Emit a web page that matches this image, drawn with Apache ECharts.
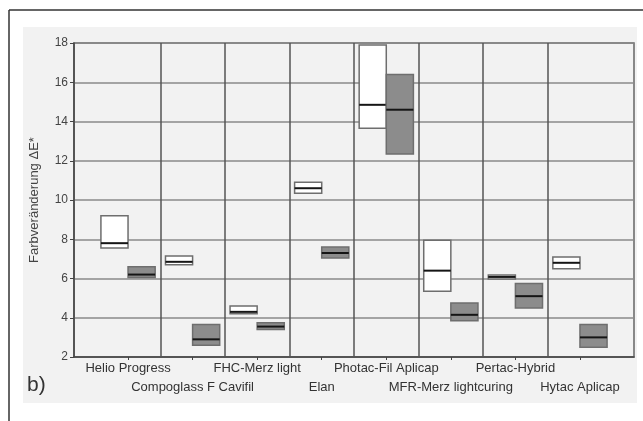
<!DOCTYPE html>
<html>
<head>
<meta charset="utf-8">
<script src="https://cdn.jsdelivr.net/npm/echarts@6/dist/echarts.min.js"></script>
<style>
  html, body { margin: 0; padding: 0; background: #fff; }
  #container { width: 643px; height: 421px; }
</style>
</head>
<body>
<div id="container"></div>
<script>
// materials (one pair of boxes each)
const materials = ['Helio Progress', 'Compoglass F Cavifil', 'FHC-Merz light', 'Elan',
    'Photac-Fil Aplicap', 'MFR-Merz lightcuring', 'Pertac-Hybrid', 'Hytac Aplicap'];

// white boxes: low / median / high
const whiteLow = [7.55, 6.7, 4.2, 10.35, 13.65, 5.35, 5.98, 6.5];
const whiteMed = [7.8, 6.85, 4.3, 10.6, 14.85, 6.4, 6.08, 6.8];
const whiteHigh = [9.2, 7.15, 4.6, 10.9, 17.9, 7.95, 6.18, 7.1];

// grey boxes: low / median / high
const greyLow = [6.05, 2.6, 3.4, 7.05, 12.35, 3.85, 4.5, 2.5];
const greyMed = [6.2, 2.9, 3.55, 7.3, 14.6, 4.15, 5.1, 3.0];
const greyHigh = [6.6, 3.65, 3.75, 7.6, 16.4, 4.75, 5.75, 3.65];

const yTicks = [2, 4, 6, 8, 10, 12, 14, 16, 18];

const positions = materials.map((m, i) => i + 1);
const upperRow = positions.filter(p => p % 2 === 1);
const lowerRow = positions.filter(p => p % 2 === 0);
const separators = positions.slice(0, -1).map(p => ({ xAxis: p + 0.5 }));
const boxW = 0.42;
const xMin = 0.163, xMax = 8.837;

let dom = document.getElementById('container');
let myChart = echarts.init(dom);

function boxRenderer(from, to, fill) {
    return function (params, api) {
        let x = api.value(0);
        let p1 = api.coord([x + from, api.value(3)]);
        let p2 = api.coord([x + to, api.value(1)]);
        let pm = api.coord([x, api.value(2)]);
        return {
            type: 'group',
            children: [
                {
                    type: 'rect',
                    shape: { x: p1[0], y: p1[1], width: p2[0] - p1[0], height: p2[1] - p1[1] },
                    style: { fill: fill, stroke: '#6e6e6e', lineWidth: 1.5 }
                },
                {
                    type: 'line',
                    shape: { x1: p1[0], y1: pm[1], x2: p2[0], y2: pm[1] },
                    style: { stroke: '#151515', lineWidth: 2 }
                }
            ]
        };
    };
}

const font = "'Liberation Sans', Arial, sans-serif";
const labelName = (v) => materials[Math.round(v) - 1];

const option = {
    animation: false,
    backgroundColor: '#fff',
    textStyle: { fontFamily: font },
    title: {
        text: 'b)',
        left: 22,
        top: 370,
        textStyle: { fontSize: 21, fontWeight: 'normal', color: '#333', fontFamily: font }
    },
    graphic: [
        { type: 'rect', z: -10, shape: { x: 23, y: 27, width: 614, height: 376 }, style: { fill: '#f2f2f2' } },
        { type: 'line', z: -5, shape: { x1: 9, y1: 10, x2: 643, y2: 10 }, style: { stroke: '#333', lineWidth: 1.5 } },
        { type: 'line', z: -5, shape: { x1: 9, y1: 10, x2: 9, y2: 421 }, style: { stroke: '#333', lineWidth: 1.5 } }
    ],
    grid: {
        left: 74, right: 9, top: 43, bottom: 64,
        show: true, borderColor: '#666', borderWidth: 1.5, backgroundColor: 'transparent'
    },
    xAxis: [
        {
            type: 'value',
            position: 'bottom',
            min: xMin,
            max: xMax,
            splitLine: { show: false },
            axisLine: { show: true, lineStyle: { color: '#444', width: 1.5 } },
            axisTick: { show: true, length: 3, customValues: positions, lineStyle: { color: '#444' } },
            axisLabel: {
                customValues: upperRow,
                margin: 5,
                fontSize: 13,
                color: '#333',
                formatter: labelName
            }
        },
        {
            type: 'value',
            position: 'bottom',
            offset: 0,
            min: xMin,
            max: xMax,
            splitLine: { show: false },
            axisLine: { show: false },
            axisTick: { show: false },
            axisLabel: {
                customValues: lowerRow,
                margin: 24,
                fontSize: 13,
                color: '#333',
                formatter: labelName
            }
        }
    ],
    yAxis: {
        type: 'value',
        min: yTicks[0],
        max: yTicks[yTicks.length - 1],
        interval: 2,
        name: 'Farbveränderung ΔE*',
        nameLocation: 'middle',
        nameGap: 33,
        nameTextStyle: { fontSize: 13, color: '#444' },
        axisLine: { show: true, lineStyle: { color: '#444', width: 1.5 } },
        axisTick: { show: true, length: 4, lineStyle: { color: '#444' } },
        axisLabel: { fontSize: 12, color: '#444', margin: 6 },
        splitLine: { show: true, lineStyle: { color: '#8a8a8a', width: 1.5 } }
    },
    series: [
        {
            name: 'white',
            type: 'custom',
            xAxisIndex: 0,
            renderItem: boxRenderer(-boxW, 0, '#ffffff'),
            data: positions.map((p, i) => [p, whiteLow[i], whiteMed[i], whiteHigh[i]]),
            markLine: {
                silent: true,
                symbol: 'none',
                label: { show: false },
                lineStyle: { color: '#555', width: 1.5, type: 'solid' },
                data: separators
            },
            z: 3
        },
        {
            name: 'grey',
            type: 'custom',
            xAxisIndex: 0,
            renderItem: boxRenderer(0, boxW, '#8c8c8c'),
            data: positions.map((p, i) => [p, greyLow[i], greyMed[i], greyHigh[i]]),
            z: 3
        }
    ]
};

myChart.setOption(option);
</script>
</body>
</html>
